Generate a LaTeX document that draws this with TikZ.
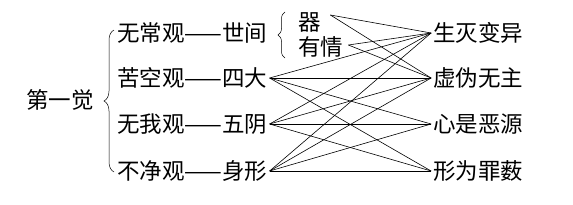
\documentclass[tikz,border=0pt]{standalone}
\usepackage{fontspec}
\newfontfamily\cjk{Noto Sans CJK SC}
\usetikzlibrary{positioning, calc, decorations.pathreplacing}

\begin{document}
\begin{tikzpicture}[
  x=1pt, y=-1pt,
  txt/.style={
    font=\cjk\fontsize{22.5}{22.5}\selectfont,
    inner ysep=0pt, inner xsep=2pt
  },
  row/.style={txt, anchor=west},
  tgt/.style={txt, anchor=west},
  brc/.style={decorate, decoration={brace, amplitude=#1}, line width=0.5pt},
  lnk/.style={line width=0.6pt, black}
]
\useasboundingbox (0,0) rectangle (573,204);

%% Root
\node[txt] (root) at (60,100) {第一觉};

%% Four contemplations
\node[row] (r1) at (115,33)  {无常观——世间};
\node[row] (r2) at (115,78)  {苦空观——四大};
\node[row] (r3) at (115,124) {无我观——五阴};
\node[row] (r4) at (115,171) {不净观——身形};

%% Sub-items of the first row
\node[txt, anchor=west] (qi) at (296,22) {器};
\node[txt, anchor=west] (yq) at (296,47) {有情};

%% Targets (right column)
\node[tgt, right=161.5pt of r1.east] (sm) {生灭变异};
\node[tgt, right=161.5pt of r2.east] (xw) {虚伪无主};
\node[tgt, right=161.5pt of r3.east] (xs) {心是恶源};
\node[tgt, right=161.5pt of r4.east] (xz) {形为罪薮};

%% Braces
\draw[brc=10pt] ([xshift=-1pt,yshift=-1pt]r4.west) -- ([xshift=-1pt,yshift=3pt]r1.west);
\draw[brc=7pt] ($(yq.west)+(-11,11)$) -- ($(qi.west)+(-11,-10)$);

%% Links from the sub-items
\draw[lnk] ([xshift=7.5pt,yshift=7pt]qi.east) -- (sm.west);
\draw[lnk] ([xshift=7.5pt,yshift=7pt]qi.east) -- (xw.west);
\draw[lnk] ([xshift=3pt,yshift=2pt]yq.east) -- (sm.west);
\draw[lnk] ([xshift=3pt,yshift=2pt]yq.east) -- (xw.west);

%% Links from the rows
\draw[lnk] (r2.east) -- (sm.west);
\draw[lnk] (r2.east) -- (xw.west);
\draw[lnk] (r2.east) -- (xs.west);
\draw[lnk] (r2.east) -- (xz.west);
\draw[lnk] (r3.east) -- (sm.west);
\draw[lnk] (r3.east) -- (xw.west);
\draw[lnk] (r3.east) -- (xs.west);
\draw[lnk] (r3.east) -- (xz.west);
\draw[lnk] (r4.east) -- (sm.west);
\draw[lnk] (r4.east) -- (xw.west);
\draw[lnk] (r4.east) -- (xs.west);
\draw[lnk] (r4.east) -- (xz.west);

\end{tikzpicture}
\end{document}
